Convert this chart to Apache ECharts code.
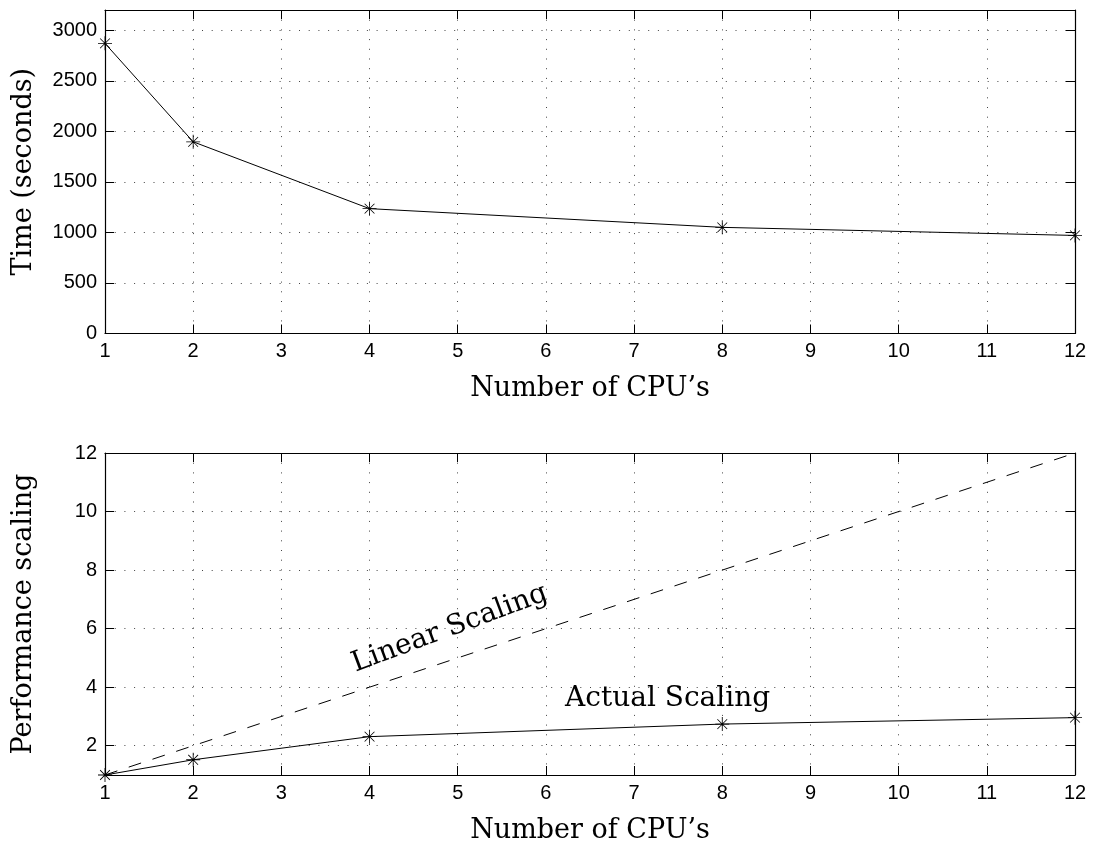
<!DOCTYPE html>
<html>
<head>
<meta charset="utf-8">
<script src="https://cdn.jsdelivr.net/npm/echarts@6/dist/echarts.min.js"></script>
<style>
html,body{margin:0;padding:0;background:#fff;}
#chart{width:1096px;height:849px;}
</style>
</head>
<body>
<div id="chart"></div>
<script>
// ---- data ----
const cpus = [1, 2, 4, 8, 12];
const timeSeconds = [2870, 1896, 1235, 1050, 970];
const actualScaling = [1.0, 1.52, 2.31, 2.74, 2.96];
const linearScaling = [1, 2, 4, 8, 12];
const timeTicks = [0, 500, 1000, 1500, 2000, 2500, 3000];
const perfTicks = [2, 4, 6, 8, 10, 12];
const xLabel = 'Number of CPU\u2019s';
const topYLabel = 'Time (seconds)';
const botYLabel = 'Performance scaling';
const annotations = [
  { text: 'Linear Scaling', x: 4.91, y: 6.0, rotate: 20.5 },
  { text: 'Actual Scaling', x: 7.38, y: 3.62, rotate: 0 }
];

const pair = (xs, ys) => xs.map((x, i) => [x, ys[i]]);

const SERIF = '"DejaVu Serif", "Liberation Serif", serif';
const SANS = '"Liberation Sans", Arial, sans-serif';
const star = 'path://M9.4 0L10.6 0L10.6 20L9.4 20Z M0 9.4L20 9.4L20 10.6L0 10.6Z M2.6 3.4L3.4 2.6L17.4 16.6L16.6 17.4Z M16.6 2.6L17.4 3.4L3.4 17.4L2.6 16.6Z';

const grid = [
  { left: 105, right: 21, top: 10, height: 323.5 },
  { left: 105, right: 21, top: 453, height: 322 }
];

function xAxisFor(gridIndex, main) {
  return {
    type: 'value', gridIndex: gridIndex, min: 1, max: 12, interval: 1,
    position: main ? 'bottom' : 'top',
    name: main ? xLabel : '', nameLocation: 'middle', nameGap: 42,
    nameTextStyle: { fontFamily: SERIF, fontSize: 27, color: '#000' },
    axisLine: { show: true, onZero: false, lineStyle: { color: '#000', width: 1.2 } },
    axisTick: { show: true, inside: true, length: 9, lineStyle: { color: '#000' } },
    axisLabel: { show: main, fontFamily: SANS, fontSize: 20, color: '#000', margin: 8, formatter: v => String(v) },
    splitLine: { show: main, lineStyle: { color: '#444', type: [1, 8.7], width: 1 } }
  };
}
function yAxisFor(gridIndex, main, min, max, ticks, name) {
  return {
    type: 'value', gridIndex: gridIndex, min: min, max: max,
    position: main ? 'left' : 'right',
    name: main ? name : '', nameLocation: 'middle', nameGap: 68,
    nameTextStyle: { fontFamily: SERIF, fontSize: 27, color: '#000' },
    axisLine: { show: true, onZero: false, lineStyle: { color: '#000', width: 1.2 } },
    axisTick: { show: true, inside: true, length: 9, lineStyle: { color: '#000' }, customValues: ticks },
    axisLabel: { show: main, fontFamily: SANS, fontSize: 20, color: '#000', margin: 8, customValues: ticks, formatter: v => String(v) },
    splitLine: { show: main, lineStyle: { color: '#444', type: [1, 8.7], width: 1 } }
  };
}

const chart = echarts.init(document.getElementById('chart'), null, { renderer: 'canvas' });
chart.setOption({
  animation: false,
  backgroundColor: '#fff',
  grid: grid,
  xAxis: [xAxisFor(0, true), xAxisFor(0, false), xAxisFor(1, true), xAxisFor(1, false)],
  yAxis: [
    yAxisFor(0, true, 0, 3200, timeTicks, topYLabel),
    yAxisFor(0, false, 0, 3200, timeTicks, ''),
    yAxisFor(1, true, 1, 12, perfTicks, botYLabel),
    yAxisFor(1, false, 1, 12, perfTicks, '')
  ],
  series: [
    {
      type: 'line', xAxisIndex: 0, yAxisIndex: 0, data: pair(cpus, timeSeconds),
      symbol: star, symbolSize: 14, clip: false,
      lineStyle: { color: '#000', width: 1 }, itemStyle: { color: '#000' }
    },
    {
      type: 'line', xAxisIndex: 2, yAxisIndex: 2, data: pair(cpus, linearScaling),
      symbol: 'none', clip: false,
      lineStyle: { color: '#000', width: 1, type: [13, 12] }
    },
    {
      type: 'line', xAxisIndex: 2, yAxisIndex: 2, data: pair(cpus, actualScaling),
      symbol: star, symbolSize: 14, clip: false,
      lineStyle: { color: '#000', width: 1 }, itemStyle: { color: '#000' }
    }
  ]
});

const graphics = annotations.map(a => {
  const p = chart.convertToPixel({ xAxisIndex: 2, yAxisIndex: 2 }, [a.x, a.y]);
  return {
    type: 'text', x: p[0], y: p[1], rotation: a.rotate * Math.PI / 180,
    style: { text: a.text, fontFamily: SERIF, fontSize: 28, fill: '#000', align: 'center', verticalAlign: 'middle' }
  };
});
chart.setOption({ graphic: graphics });
</script>
</body>
</html>
